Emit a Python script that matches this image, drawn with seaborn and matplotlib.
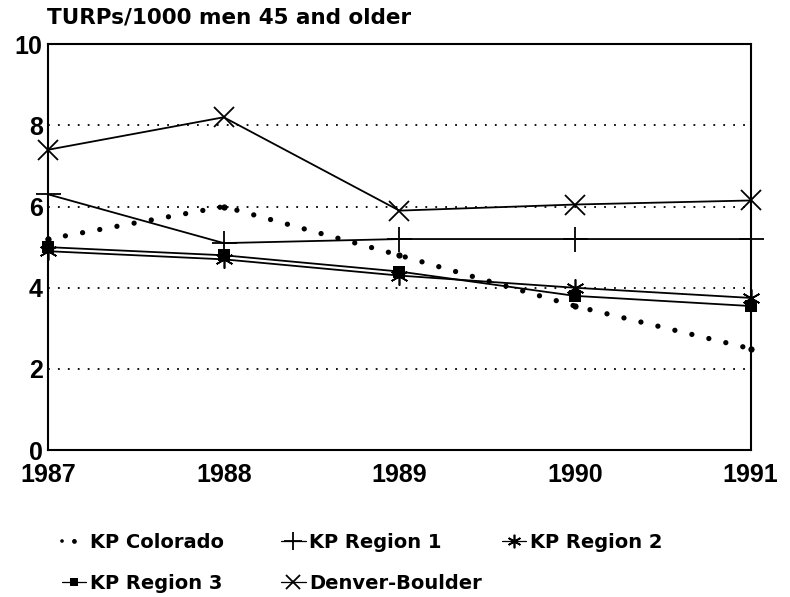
import matplotlib
matplotlib.use("Agg")
import matplotlib.pyplot as plt
import seaborn as sns
import pandas as pd
from matplotlib.lines import Line2D

years = [1987, 1988, 1989, 1990, 1991]
kp_colorado = [5.2, 6.0, 4.8, 3.55, 2.5]
kp_region1 = [6.3, 5.1, 5.2, 5.2, 5.2]
kp_region2 = [4.9, 4.7, 4.3, 4.0, 3.75]
kp_region3 = [5.0, 4.8, 4.4, 3.8, 3.55]
denver_boulder = [7.4, 8.2, 5.9, 6.05, 6.15]
y_ticks = [0, 2, 4, 6, 8, 10]

sns.set_style("white")
plt.rcParams['font.family'] = ['Liberation Sans', 'DejaVu Sans']
plt.rcParams['font.weight'] = 'bold'
plt.rcParams['text.color'] = 'black'

fig = plt.figure(figsize=(7.9, 5.97), dpi=100)
ax = fig.add_axes([0.061, 0.246, 0.889, 0.68])

# dotted reference lines
for g in [2, 4, 6, 8]:
    ax.axhline(g, color='black', linestyle=(0, (1, 4.5)), linewidth=1.3, zorder=0)

styles = {
    "KP Colorado": dict(data=kp_colorado, marker='o', ms=4.5, ls=(0, (0.01, 3.3)), lw=3.8, mew=0),
    "KP Region 1": dict(data=kp_region1, marker='+', ms=18, ls='-', lw=1.3, mew=1.3),
    "KP Region 2": dict(data=kp_region2, marker=(6, 2, 0), ms=13, ls='-', lw=1.3, mew=1.2),
    "KP Region 3": dict(data=kp_region3, marker='s', ms=8, ls='-', lw=1.3, mew=0),
    "Denver-Boulder": dict(data=denver_boulder, marker='x', ms=14, ls='-', lw=1.3, mew=1.3),
}

handles = {}
for name, st in styles.items():
    df = pd.DataFrame({"year": years, "value": st["data"]})
    sns.lineplot(data=df, x="year", y="value", ax=ax, color='black',
                 marker=st["marker"], markersize=st["ms"], linestyle=st["ls"],
                 linewidth=st["lw"], markeredgewidth=st["mew"],
                 markeredgecolor='black', dash_capstyle='round', clip_on=False)
    handles[name] = Line2D([], [], color='black', marker=st["marker"],
                           markersize=st["ms"] * 0.75, linestyle=st["ls"],
                           linewidth=st["lw"] * 0.7, markeredgewidth=st["mew"],
                           dash_capstyle='round')

ax.set_xlim(1987, 1991)
ax.set_ylim(0, 10)
ax.set_xticks(years)
ax.set_yticks(y_ticks)
ax.set_xlabel("")
ax.set_ylabel("")
for s in ax.spines.values():
    s.set_visible(True)
    s.set_color('black')
    s.set_linewidth(1.5)
ax.tick_params(axis='both', direction='in', length=6, width=1.3, colors='black',
               labelsize=18)
ax.tick_params(axis='x', pad=9)
ax.tick_params(axis='y', pad=4)
for lab in ax.get_xticklabels() + ax.get_yticklabels():
    lab.set_fontweight('bold')

fig.text(0.059, 0.97, "TURPs/1000 men 45 and older", fontsize=15.5, color='black',
         fontweight='bold', va='center', ha='left', family='DejaVu Sans')

# legend laid out as three columns
columns = [["KP Colorado", "KP Region 3"], ["KP Region 1", "Denver-Boulder"],
           ["KP Region 2"]]
col_x = [0.078, 0.356, 0.635]
for names, x in zip(columns, col_x):
    fig.legend([handles[k] for k in names], names, loc='upper left',
               bbox_to_anchor=(x, 0.107), ncol=1, frameon=False,
               prop={'weight': 'bold', 'size': 14, 'family': 'DejaVu Sans'},
               labelcolor='black', handlelength=1.25, handletextpad=0.2,
               labelspacing=1.1, borderpad=0, borderaxespad=0)

fig.savefig("out.png", dpi=100)
